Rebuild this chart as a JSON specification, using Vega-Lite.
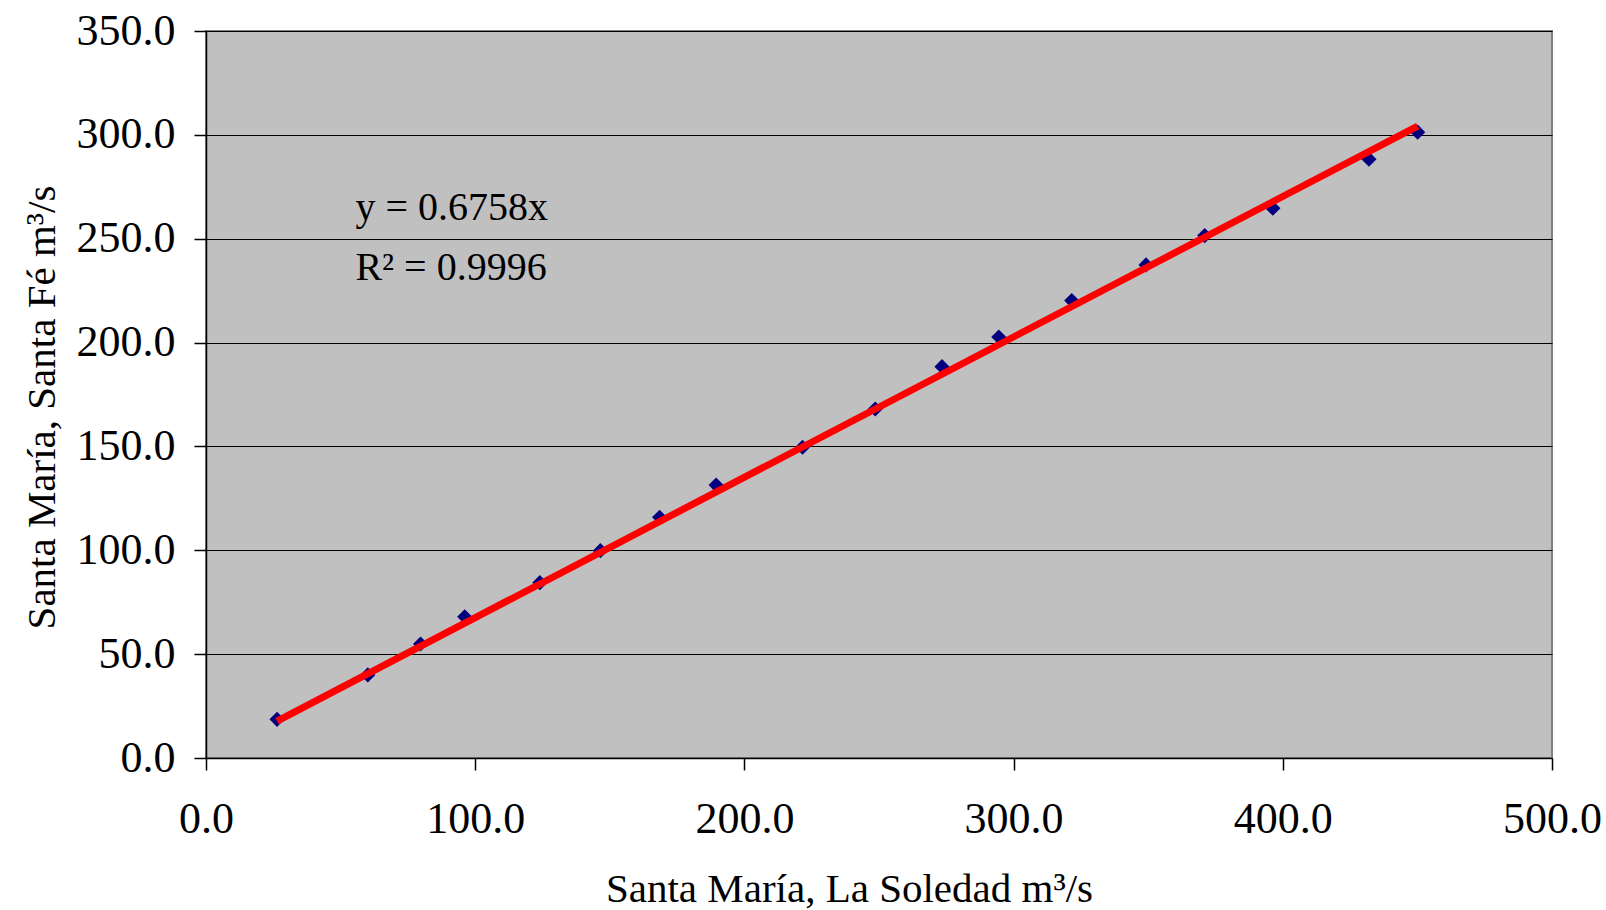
{
  "$schema": "https://vega.github.io/schema/vega-lite/v6.json",
  "width": 1346,
  "height": 727,
  "autosize": {"type": "none"},
  "padding": {"left": 206, "top": 31, "right": 54, "bottom": 152},
  "background": "white",
  "config": {
    "view": {"fill": "#C0C0C0", "stroke": "#808080", "strokeWidth": 2},
    "font": "Liberation Serif"
  },
  "datasets": {
    "obs": [
      {"x": 26.4, "y": 18.6},
      {"x": 60.1, "y": 40.0},
      {"x": 79.7, "y": 54.9},
      {"x": 96.1, "y": 68.0},
      {"x": 124.0, "y": 84.4},
      {"x": 146.5, "y": 99.8},
      {"x": 168.5, "y": 115.9},
      {"x": 189.5, "y": 131.4},
      {"x": 221.6, "y": 149.6},
      {"x": 248.6, "y": 168.0},
      {"x": 273.4, "y": 188.4},
      {"x": 294.5, "y": 202.7},
      {"x": 321.6, "y": 220.2},
      {"x": 349.2, "y": 237.4},
      {"x": 371.0, "y": 251.5},
      {"x": 396.3, "y": 264.7},
      {"x": 432.0, "y": 288.3},
      {"x": 450.1, "y": 301.3}
    ],
    "trend": [
      {"x": 26.4, "y": 17.8},
      {"x": 450.1, "y": 304.2}
    ],
    "labels": [
      {"x": 55.5, "y": 259.0, "label": "y = 0.6758x"},
      {"x": 55.5, "y": 230.1, "label": "R² = 0.9996"}
    ]
  },
  "layer": [
    {
      "data": {"name": "obs"},
      "mark": {"type": "point", "shape": "diamond", "filled": true, "color": "#000080", "size": 230, "opacity": 1},
      "encoding": {
        "x": {
          "field": "x", "type": "quantitative",
          "scale": {"domain": [0, 500], "nice": false, "zero": true},
          "axis": {
            "title": "Santa María, La Soledad m³/s",
            "values": [0, 100, 200, 300, 400, 500],
            "format": ".1f",
            "grid": false,
            "domainColor": "black", "domainWidth": 1.5,
            "tickColor": "black", "tickSize": 12, "tickWidth": 1.5,
            "labelFontSize": 44, "labelFont": "Liberation Serif", "labelColor": "black",
            "labelPadding": 27, "labelOverlap": false, "labelFlush": false,
            "titleFontSize": 41, "titleFont": "Liberation Serif", "titleFontWeight": "normal", "titleColor": "black",
            "titleX": 643, "titleY": 143, "titleBaseline": "alphabetic", "titleAlign": "center"
          }
        },
        "y": {
          "field": "y", "type": "quantitative",
          "scale": {"domain": [0, 350], "nice": false, "zero": true},
          "axis": {
            "title": "Santa María, Santa Fé m³/s",
            "values": [0, 50, 100, 150, 200, 250, 300, 350],
            "format": ".1f",
            "grid": true, "gridColor": "black", "gridWidth": 1.2, "gridOpacity": 1,
            "domainColor": "black", "domainWidth": 1.5,
            "tickColor": "black", "tickSize": 12, "tickWidth": 1.5,
            "labelFontSize": 44, "labelFont": "Liberation Serif", "labelColor": "black",
            "labelPadding": 19, "labelOverlap": false, "labelFlush": false,
            "titleFontSize": 41, "titleFont": "Liberation Serif", "titleFontWeight": "normal", "titleColor": "black",
            "titleX": -164, "titleY": 376, "titleAngle": 270, "titleBaseline": "middle", "titleAlign": "center"
          }
        }
      }
    },
    {
      "data": {"name": "trend"},
      "mark": {"type": "line", "color": "#FF0000", "strokeWidth": 7},
      "encoding": {
        "x": {"field": "x", "type": "quantitative"},
        "y": {"field": "y", "type": "quantitative"}
      }
    },
    {
      "data": {"name": "labels"},
      "mark": {"type": "text", "align": "left", "baseline": "alphabetic", "fontSize": 40, "font": "Liberation Serif", "color": "black"},
      "encoding": {
        "x": {"field": "x", "type": "quantitative"},
        "y": {"field": "y", "type": "quantitative"},
        "text": {"field": "label"}
      }
    }
  ]
}
